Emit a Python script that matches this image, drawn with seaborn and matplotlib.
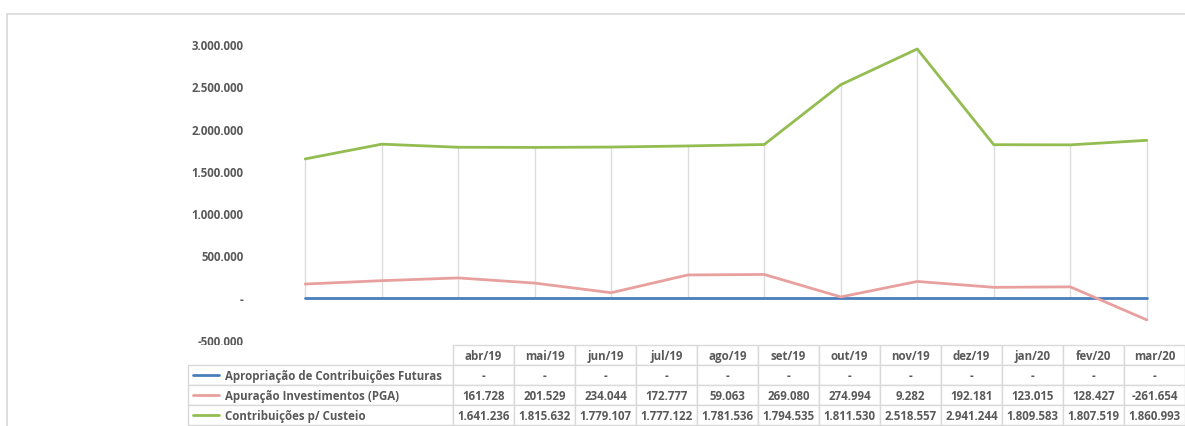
import numpy as np
import pandas as pd
import matplotlib.pyplot as plt
from matplotlib.lines import Line2D
import seaborn as sns

# Data
months = ['abr/19', 'mai/19', 'jun/19', 'jul/19', 'ago/19', 'set/19',
          'out/19', 'nov/19', 'dez/19', 'jan/20', 'fev/20', 'mar/20']
series_names = ['Apropriação de Contribuições Futuras',
                'Apuração Investimentos (PGA)',
                'Contribuições p/ Custeio']
apropriacao = [0, 0, 0, 0, 0, 0, 0, 0, 0, 0, 0, 0]
apuracao_pga = [161728, 201529, 234044, 172777, 59063, 269080,
                274994, 9282, 192181, 123015, 128427, -261654]
contribuicoes = [1641236, 1815632, 1779107, 1777122, 1781536, 1794535,
                 1811530, 2518557, 2941244, 1809583, 1807519, 1860993]
y_ticks = [-500000, 0, 500000, 1000000, 1500000, 2000000, 2500000, 3000000]

colors = ['#4a7ebb', '#e8a09e', '#93bd51']
text_color = '#595959'


def fmt_br(v):
    # Brazilian thousands separator, zero shown as a dash
    if v == 0:
        return '-'
    return f'{v:,.0f}'.replace(',', '.')


sns.set_theme(style='white')
plt.rcParams['font.family'] = ['Open Sans', 'DejaVu Sans']

df = pd.DataFrame({
    'pos': list(range(len(months))) * 3,
    'valor': apropriacao + apuracao_pga + contribuicoes,
    'serie': [s for s in series_names for _ in months],
})

fig = plt.figure(figsize=(11.85, 4.27), dpi=100)
ax = fig.add_axes([0.2253, 0.2014, 0.7747, 0.6932])

# High-low lines between the series at every category
vals = np.array([apropriacao, apuracao_pga, contribuicoes])
ax.vlines(range(len(months)), vals.min(axis=0), vals.max(axis=0),
          color='#dcdcdc', linewidth=1, zorder=1)

sns.lineplot(data=df, x='pos', y='valor', hue='serie', palette=colors,
             linewidth=2.0, legend=False, ax=ax, zorder=3)

ax.set_xlim(-0.5, len(months) - 0.5)
ax.set_ylim(-500000, 3000000)
ax.set_yticks(y_ticks)
ax.set_yticklabels([fmt_br(t) for t in y_ticks], color=text_color,
                   fontsize=8.3, fontweight='bold')
ax.tick_params(axis='y', length=0, pad=17)
ax.set_xticks([])
ax.set_xlabel('')
ax.set_ylabel('')
for sp in ax.spines.values():
    sp.set_visible(False)
ax.patch.set_alpha(0)

# Data table below the chart
tab_ax = fig.add_axes([0.1586, 0.0023, 0.8414, 0.1874])
tab_ax.axis('off')
rows = [[''] + months]
for name, s in zip(series_names, [apropriacao, apuracao_pga, contribuicoes]):
    rows.append([name] + [fmt_br(v) for v in s])
first_w = 265 / 997
col_w = [first_w] + [(1 - first_w) / len(months)] * len(months)
table = tab_ax.table(cellText=rows, colWidths=col_w, bbox=[0, 0, 1, 1],
                     cellLoc='center')
table.auto_set_font_size(False)
for (r, c), cell in table.get_celld().items():
    cell.set_edgecolor('#d9d9d9')
    cell.set_linewidth(1)
    cell.get_text().set_fontsize(8.3)
    cell.get_text().set_fontweight('bold')
    cell.get_text().set_color(text_color)
    if r == 0 and c == 0:
        cell.set_edgecolor('none')
    if c == 0 and r > 0:
        cell.get_text().set_ha('left')
        cell.PAD = 0.14
        cell._loc = 'left'

# Legend keys inside the table
for i, col in enumerate(colors):
    yc = 1 - (i + 1.5) / 4
    tab_ax.add_line(Line2D([5 / 997, 31 / 997], [yc, yc], color=col,
                           linewidth=2.0, transform=tab_ax.transAxes))

# Light frame around the chart area
fig.add_artist(Line2D([7 / 1185, 7 / 1185], [0, 1 - 15 / 427],
                      color='#d9d9d9', linewidth=1.2))
fig.add_artist(Line2D([7 / 1185, 1], [1 - 15 / 427, 1 - 15 / 427],
                      color='#d9d9d9', linewidth=1.2))

fig.savefig('out.png', dpi=100)
